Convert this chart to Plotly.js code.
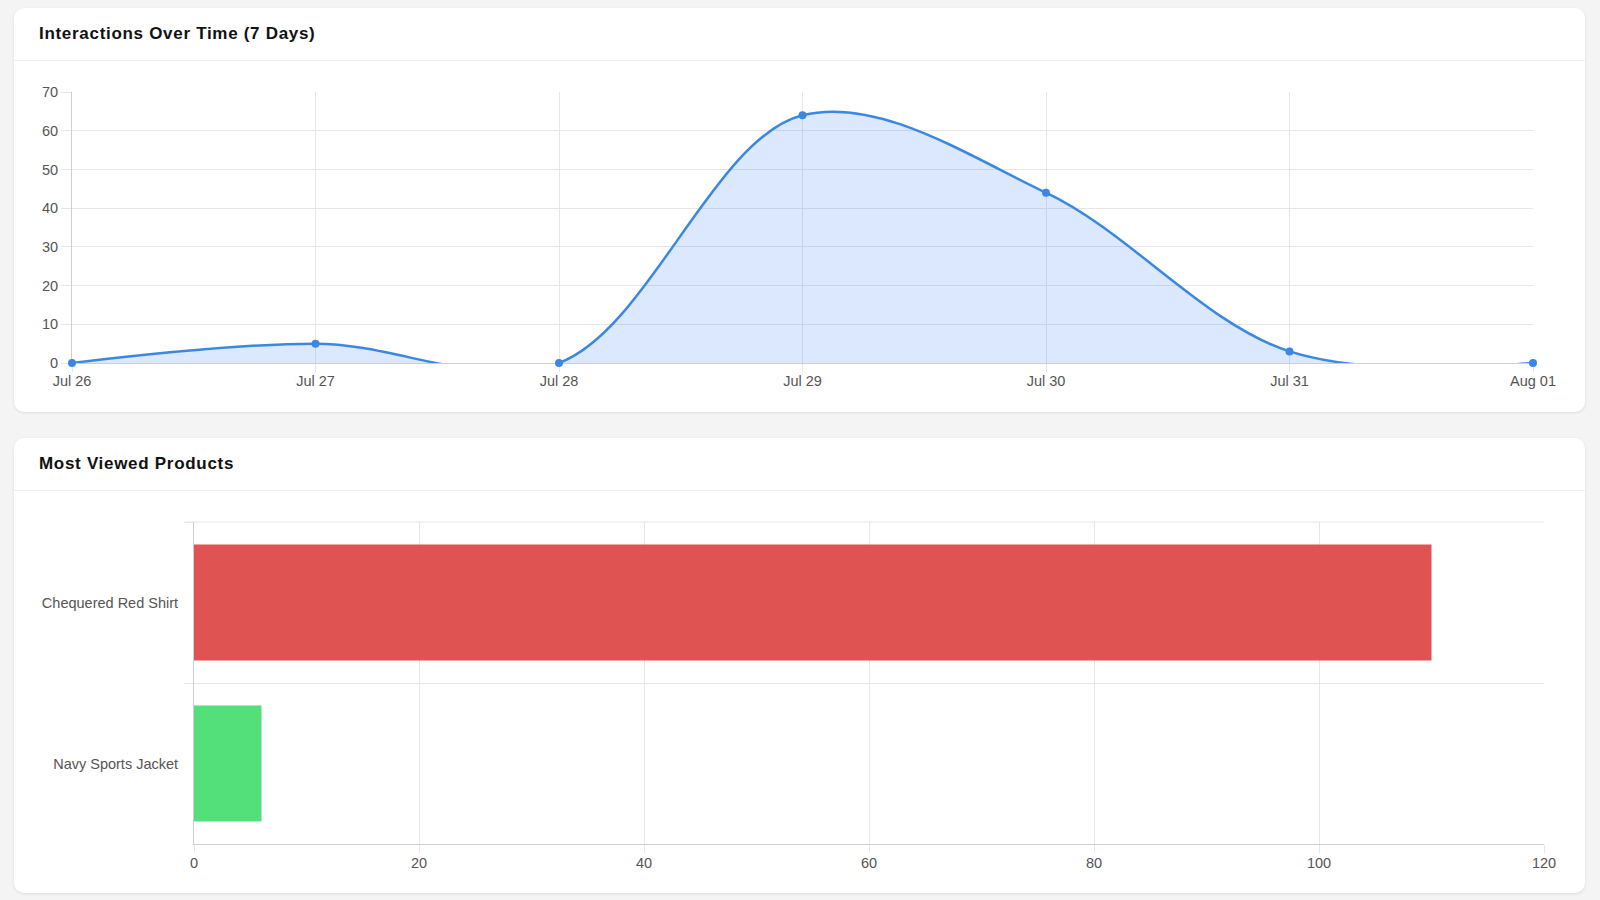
<!DOCTYPE html>
<html>
<head>
<meta charset="utf-8">
<script src="https://cdn.plot.ly/plotly-3.0.1.min.js"></script>
<style>
  html, body { margin:0; padding:0; width:1600px; height:900px; overflow:hidden; background:#f4f4f4; font-family:"Liberation Sans", Arial, sans-serif; }
  .card { position:absolute; left:14px; width:1571px; background:#fff; border-radius:10px; box-shadow:0 1px 3px rgba(0,0,0,0.10); }
  .hdr { height:52px; line-height:52px; padding-left:25px; border-bottom:1px solid #efefef; font-weight:bold; font-size:17px; letter-spacing:0.7px; color:#111; }
  #chart { position:absolute; left:0; top:0; width:1600px; height:900px; }
</style>
</head>
<body>
<div class="card" style="top:8px;height:404px;"><div class="hdr">Interactions Over Time (7 Days)</div></div>
<div class="card" style="top:438px;height:455px;"><div class="hdr">Most Viewed Products</div></div>
<div id="chart"></div>
<script>
const dates = ['2025-07-26','2025-07-27','2025-07-28','2025-07-29','2025-07-30','2025-07-31','2025-08-01'];
const interactions = [0, 5, 0, 64, 44, 3, 0];
const products = ['Chequered Red Shirt', 'Navy Sports Jacket'];
const views = [110, 6];
const barColors = ['#e05353', '#53e07a'];

const W = 1600, H = 900;
const gridC = '#e6e6e6', lineC = '#cfcfcf';
const tickFont = {family:'"Liberation Sans", Arial, sans-serif', size:14.5, color:'#555'};

const traces = [
  {
    type:'scatter', mode:'lines', x:dates, y:interactions,
    xaxis:'x', yaxis:'y',
    line:{color:'#3b88e3', width:2.5, shape:'spline', smoothing:1},
    fill:'tozeroy', fillcolor:'rgba(59,130,246,0.18)',
    hoverinfo:'skip', showlegend:false
  },
  {
    type:'scatter', mode:'markers', x:dates, y:interactions,
    xaxis:'x', yaxis:'y', cliponaxis:false,
    marker:{color:'#3b88e3', size:8},
    hoverinfo:'x+y', showlegend:false
  },
  {
    type:'bar', orientation:'h', x:views, y:products,
    xaxis:'x2', yaxis:'y2',
    marker:{color:barColors},
    hoverinfo:'x+y', showlegend:false
  }
];

const common = {showgrid:true, gridcolor:gridC, showline:true, linecolor:lineC, linewidth:1,
  ticks:'outside', tickcolor:gridC, tickfont:tickFont, zeroline:false, fixedrange:true};

const layout = {
  width:W, height:H, margin:{l:0,r:0,t:0,b:0},
  paper_bgcolor:'rgba(0,0,0,0)', plot_bgcolor:'rgba(0,0,0,0)',
  bargap:0.28,
  xaxis: Object.assign({}, common, {domain:[72/W, 1533/W], anchor:'y', type:'date',
    range:['2025-07-26','2025-08-01'], dtick:86400000, tick0:'2025-07-26', tickformat:'%b %d',
    ticklen:8, ticklabelstandoff:-3, layer:'below traces'}),
  yaxis: Object.assign({}, common, {domain:[1-363/H, 1-92/H], anchor:'x', range:[0,70], dtick:10, ticklen:10,
    layer:'below traces'}),
  xaxis2: Object.assign({}, common, {domain:[194/W, 1544/W], anchor:'y2', range:[0,120], dtick:20,
    ticklen:8, ticklabelstandoff:-2}),
  yaxis2: Object.assign({}, common, {domain:[1-844/H, 1-522/H], anchor:'x2', type:'category',
    autorange:'reversed', tickson:'boundaries', ticklen:9, ticklabelstandoff:12}),
  shapes: [
    {type:'line', xref:'x2 domain', yref:'y2 domain', x0:-9/1350, x1:1, y0:1, y1:1,
     line:{color:gridC, width:1}, layer:'below'}
  ]
};

Plotly.newPlot('chart', traces, layout, {displayModeBar:false});
</script>
</body>
</html>
